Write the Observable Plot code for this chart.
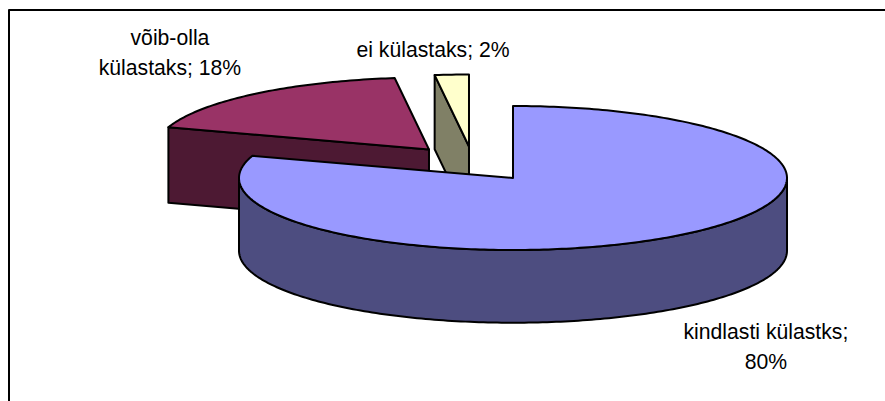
<!DOCTYPE html>
<html>
<head>
<meta charset="utf-8">
<script src="https://cdn.jsdelivr.net/npm/d3@7"></script>
<script src="https://cdn.jsdelivr.net/npm/@observablehq/plot@0.6"></script>
<style>html,body{margin:0;padding:0;background:#fff}svg{display:block}</style>
</head>
<body>
<div id="chart"></div>
<script>
// Data
const categories = ["kindlasti külastks", "võib-olla külastaks", "ei külastaks"];
const shares = [80, 18, 2];
const labels = ["kindlasti külastks;\n80%", "võib-olla\nkülastaks; 18%", "ei külastaks; 2%"];

// Styles and pie layout (pie units: the top ellipse has radius 1 on both scales)
const topColors = ["#9999FF", "#993366", "#FFFFCC"];
const sideColors = ["#4D4D80", "#4D1933", "#808066"];
const explodeX = [0, -0.3066, -0.1606];
const explodeY = [0, -0.396, -0.4375];
const depths = [1.01, 1.05, 1.03];
const labelX = [0.923, -1.252, -0.292];
const labelY = [2.305, -1.778, -1.82];
const W = 885, H = 401, cx = 512.5, cy = 177.5, rx = 274, ry = 72;

// Clockwise angles from the top, derived from the shares
const total = d3.sum(shares);
let acc = 0;
const slices = shares.map((v, i) => {
  const a0 = acc / total * 2 * Math.PI;
  acc += v;
  return {i, a0, a1: acc / total * 2 * Math.PI};
});
const pt = (s, a, dz = 0) => ({
  x: explodeX[s.i] + Math.sin(a),
  y: explodeY[s.i] - Math.cos(a) + dz
});
const arc = (s, a0, a1, dz = 0) => {
  const n = Math.max(2, Math.ceil((a1 - a0) * 60));
  return d3.range(n + 1).map(k => pt(s, a0 + (a1 - a0) * k / n, dz));
};
const center = (s, dz = 0) => ({x: explodeX[s.i], y: explodeY[s.i] + dz});
const closed = p => [...p, p[0]];

const shape = (points, fill) =>
  Plot.line(points, {x: "x", y: "y", fill, stroke: "#000", strokeWidth: 2, curve: "linear", strokeLinejoin: "round"});

const [blue, red, yellow] = slices;
const topFace = s => closed([center(s), ...arc(s, s.a0, s.a1)]);
// Walls
const cutWall = s => closed([pt(s, s.a0), center(s), center(s, depths[s.i]), pt(s, s.a0, depths[s.i])]);
const blueWall = closed([
  ...arc(blue, Math.PI / 2, 3 * Math.PI / 2),
  ...arc(blue, Math.PI / 2, 3 * Math.PI / 2, depths[0]).reverse()
]);

const ux = px => (px - cx) / rx, uy = px => (px - cy) / ry;
const frame = [
  {x: ux(8.5), y: uy(H + 2)},
  {x: ux(8.5), y: uy(9.5)},
  {x: ux(W + 2), y: uy(9.5)}
];

const plot = Plot.plot({
  width: W, height: H,
  margin: 0,
  x: {domain: [ux(0), ux(W)], range: [0, W], axis: null},
  y: {domain: [uy(0), uy(H)], range: [0, H], axis: null},
  style: {background: "#fff", overflow: "hidden"},
  marks: [
    Plot.line(frame, {x: "x", y: "y", stroke: "#000", strokeWidth: 2}),
    shape(cutWall(red), sideColors[1]),
    shape(topFace(red), topColors[1]),
    shape(cutWall(yellow), sideColors[2]),
    shape(topFace(yellow), topColors[2]),
    shape(blueWall, sideColors[0]),
    shape(topFace(blue), topColors[0]),
    Plot.text(labels, {
      x: (d, i) => labelX[i], y: (d, i) => labelY[i], text: d => d,
      fontFamily: "Liberation Sans", fontSize: 21.2, lineHeight: 1.415,
      fill: "#000", textAnchor: "middle"
    })
  ]
});
document.getElementById("chart").appendChild(plot);
</script>
</body>
</html>
